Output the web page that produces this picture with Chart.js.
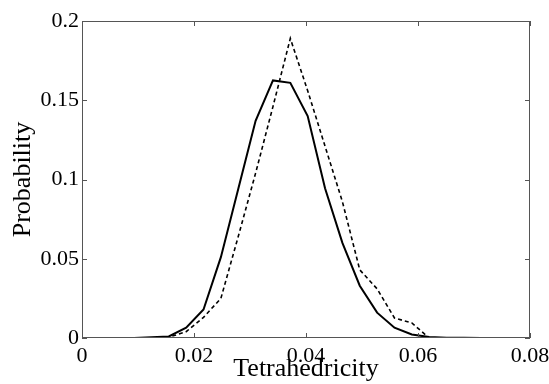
<!DOCTYPE html>
<html>
<head>
<meta charset="utf-8">
<script src="https://cdn.jsdelivr.net/npm/chart.js@4/dist/chart.umd.min.js"></script>
<style>
  html, body { margin: 0; padding: 0; background: #fff; }
  canvas { display: block; }
</style>
</head>
<body>
<canvas id="chart" width="549" height="384"></canvas>
<script>
// bin centres (tetrahedricity)
const tetra = [0, 0.0031, 0.0062, 0.0093, 0.0124, 0.0155, 0.0186, 0.0217, 0.0248, 0.0279,
    0.031, 0.0341, 0.0372, 0.0403, 0.0434, 0.0465, 0.0496, 0.0527, 0.0558, 0.0589,
    0.062, 0.0651, 0.0682, 0.0713];
const solidProb = [0, 0, 0, 0, 0.0005, 0.001, 0.0065, 0.018, 0.051, 0.094,
    0.137, 0.1625, 0.161, 0.14, 0.0945, 0.06, 0.033, 0.016, 0.0065, 0.0022,
    0.0006, 0.0002, 0.0001, 0];
const dashedProb = [null, null, null, null, 0, 0.0005, 0.004, 0.013, 0.025, 0.064,
    0.104, 0.146, 0.189, 0.156, 0.121, 0.086, 0.043, 0.031, 0.0126, 0.0095,
    0, null, null, null];
const xTicks = [0, 0.02, 0.04, 0.06, 0.08];
const xTickLabels = ['0', '0.02', '0.04', '0.06', '0.08'];
const yTicks = [0, 0.05, 0.1, 0.15, 0.2];
const yTickLabels = ['0', '0.05', '0.1', '0.15', '0.2'];

const toPoints = (xs, ys) => xs.map((x, i) => ({ x, y: ys[i] })).filter(p => p.y !== null);

const serif = "'Liberation Serif', 'DejaVu Serif', serif";

// box round the plot with short ticks pointing inwards, matlab style
const framePlugin = {
    id: 'frame',
    afterDatasetsDraw(chart) {
        const { ctx, chartArea: a, scales } = chart;
        const len = 5;
        ctx.save();
        ctx.strokeStyle = '#555';
        ctx.lineWidth = 1;
        ctx.strokeRect(a.left + 0.5, a.top + 0.5, a.right - a.left - 1, a.bottom - a.top - 1);
        ctx.beginPath();
        xTicks.forEach(v => {
            const px = Math.round(scales.x.getPixelForValue(v)) + 0.5;
            ctx.moveTo(px, a.bottom);
            ctx.lineTo(px, a.bottom - len);
            ctx.moveTo(px, a.top);
            ctx.lineTo(px, a.top + len);
        });
        yTicks.forEach(v => {
            const py = Math.round(scales.y.getPixelForValue(v)) + 0.5;
            ctx.moveTo(a.left, py);
            ctx.lineTo(a.left + len, py);
            ctx.moveTo(a.right, py);
            ctx.lineTo(a.right - len, py);
        });
        ctx.stroke();
        ctx.restore();
    }
};

const ctx = document.getElementById('chart');
const chart = new Chart(ctx, {
    type: 'line',
    data: {
        datasets: [{
            label: 'solid',
            data: toPoints(tetra, solidProb),
            borderColor: '#000',
            borderWidth: 2,
            pointRadius: 0,
            tension: 0,
            fill: false
        }, {
            label: 'dashed',
            data: toPoints(tetra, dashedProb),
            borderColor: '#000',
            borderWidth: 1.6,
            borderDash: [4, 3],
            pointRadius: 0,
            tension: 0,
            fill: false
        }]
    },
    options: {
        responsive: false,
        animation: false,
        devicePixelRatio: 1,
        layout: { padding: { left: 0, right: 19, top: 21, bottom: 0 } },
        plugins: {
            legend: { display: false },
            tooltip: { enabled: false }
        },
        scales: {
            x: {
                type: 'linear',
                min: 0,
                max: 0.08,
                afterFit: (scale) => {
                    scale.height = 46;
                    // let the last label run into the page edge like the original
                    scale.paddingLeft = 0;
                    scale.paddingRight = 0;
                },
                afterBuildTicks: (scale) => { scale.ticks = xTicks.map(v => ({ value: v })); },
                grid: { display: false, drawTicks: false },
                border: { display: false },
                ticks: {
                    color: '#000',
                    padding: 5,
                    maxRotation: 0,
                    font: { family: serif, size: 22 },
                    callback: (v) => xTickLabels[xTicks.indexOf(v)]
                },
                title: {
                    display: true,
                    text: 'Tetrahedricity',
                    color: '#000',
                    font: { family: serif, size: 26, lineHeight: 1 },
                    padding: { top: 0, bottom: 2 }
                }
            },
            y: {
                min: 0,
                max: 0.2,
                afterFit: (scale) => { scale.width = 82; },
                afterBuildTicks: (scale) => { scale.ticks = yTicks.map(v => ({ value: v })); },
                grid: { display: false, drawTicks: false },
                border: { display: false },
                ticks: {
                    color: '#000',
                    padding: 3,
                    font: { family: serif, size: 22 },
                    callback: (v) => yTickLabels[yTicks.indexOf(v)]
                },
                title: {
                    display: true,
                    text: 'Probability',
                    color: '#000',
                    font: { family: serif, size: 26, lineHeight: 1 },
                    padding: { top: 10, bottom: 0 }
                }
            }
        }
    },
    plugins: [framePlugin]
});
</script>
</body>
</html>
